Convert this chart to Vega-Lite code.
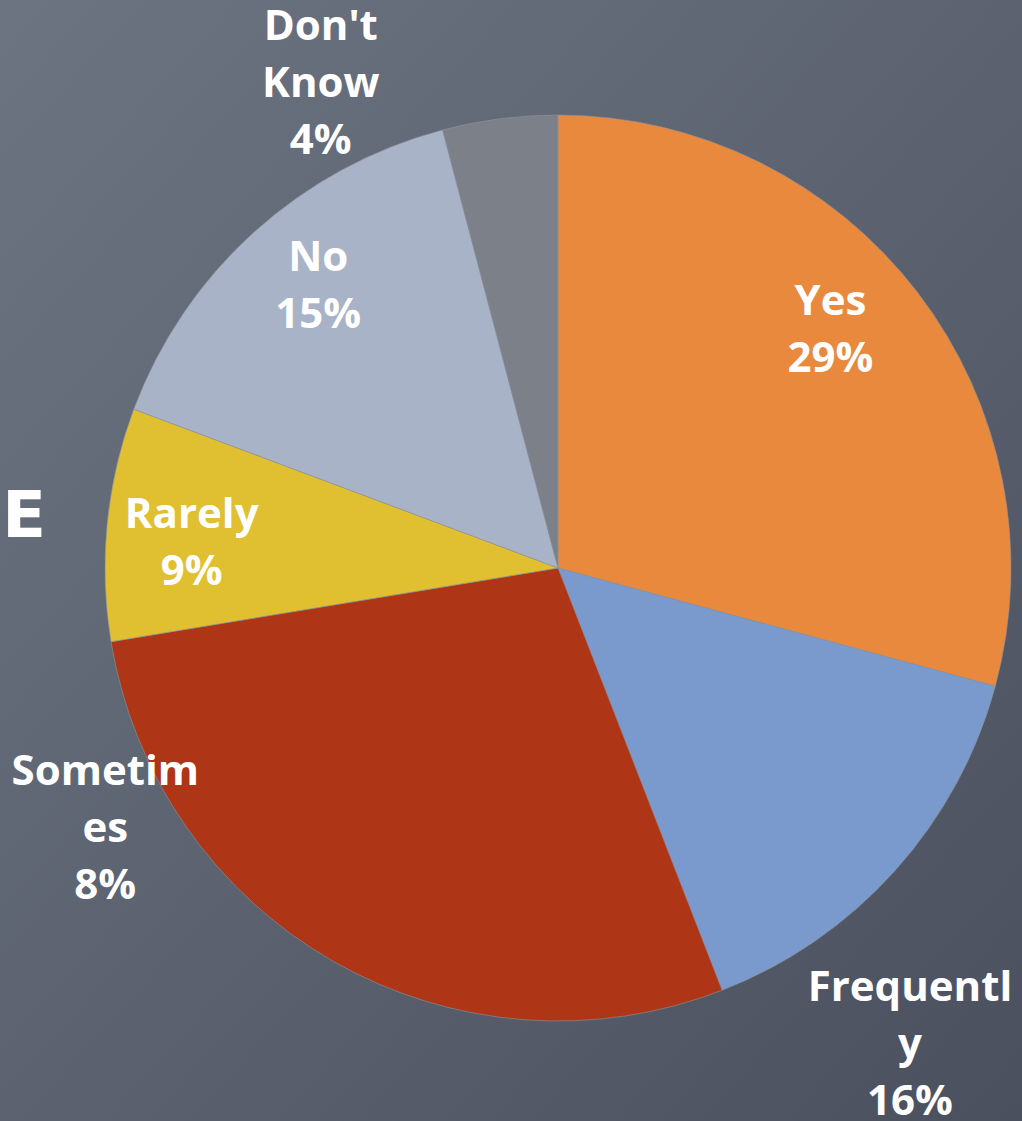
{
  "$schema": "https://vega.github.io/schema/vega-lite/v6.json",
  "width": 1022,
  "height": 1121,
  "autosize": "none",
  "padding": 0,
  "background": "#5c6370",
  "config": {"view": {"stroke": null}},
  "data": {
    "values": [
      {"seq": 1, "answer": "Yes", "share": 29.2, "label": "Yes\n29%"},
      {"seq": 2, "answer": "Frequently", "share": 14.9, "label": "Frequentl\ny\n16%"},
      {"seq": 3, "answer": "Sometimes", "share": 28.3, "label": "Sometim\nes\n8%"},
      {"seq": 4, "answer": "Rarely", "share": 8.3, "label": "Rarely\n9%"},
      {"seq": 5, "answer": "No", "share": 15.2, "label": "No\n15%"},
      {"seq": 6, "answer": "Don't Know", "share": 4.1, "label": "Don't\nKnow\n4%"}
    ]
  },
  "layer": [
    {
      "data": {"values": [{"bg": 1}]},
      "mark": {
        "type": "rect",
        "fill": {
          "gradient": "linear",
          "x1": 0, "y1": 0, "x2": 1, "y2": 1,
          "stops": [
            {"offset": 0, "color": "#6c7482"},
            {"offset": 1, "color": "#4b505e"}
          ]
        }
      },
      "encoding": {}
    },
    {
      "mark": {"type": "arc", "radius": 453, "xOffset": 47, "yOffset": 7.5, "stroke": "#8f939c", "strokeWidth": 0.6},
      "encoding": {
        "theta": {"field": "share", "type": "quantitative", "stack": true},
        "order": {"field": "seq", "type": "quantitative"},
        "color": {
          "field": "answer",
          "type": "nominal",
          "scale": {
            "domain": ["Yes", "Frequently", "Sometimes", "Rarely", "No", "Don't Know"],
            "range": ["#e8893e", "#7a9ace", "#ae3516", "#e0c030", "#a9b3c7", "#7b8089"]
          },
          "legend": null
        }
      }
    },
    {
      "mark": {"type": "text", "radius": 362, "dx": 32, "dy": -38, "font": "Open Sans", "fontWeight": "bold", "fontSize": 42, "lineHeight": 57, "lineBreak": "\n", "color": "white", "align": "center", "baseline": "middle"},
      "encoding": {
        "theta": {"field": "share", "type": "quantitative", "stack": true},
        "order": {"field": "seq", "type": "quantitative"},
        "text": {"condition": {"test": "datum.answer === 'Yes'", "field": "label"}, "value": ""}
      }
    },
    {
      "mark": {"type": "text", "radius": 362, "dx": 50, "dy": -34, "font": "Open Sans", "fontWeight": "bold", "fontSize": 42, "lineHeight": 57, "lineBreak": "\n", "color": "white", "align": "center", "baseline": "middle"},
      "encoding": {
        "theta": {"field": "share", "type": "quantitative", "stack": true},
        "order": {"field": "seq", "type": "quantitative"},
        "text": {"condition": {"test": "datum.answer === 'No'", "field": "label"}, "value": ""}
      }
    },
    {
      "mark": {"type": "text", "radius": 362, "dx": 41, "dy": -10, "font": "Open Sans", "fontWeight": "bold", "fontSize": 42, "lineHeight": 57, "lineBreak": "\n", "color": "white", "align": "center", "baseline": "middle"},
      "encoding": {
        "theta": {"field": "share", "type": "quantitative", "stack": true},
        "order": {"field": "seq", "type": "quantitative"},
        "text": {"condition": {"test": "datum.answer === 'Rarely'", "field": "label"}, "value": ""}
      }
    },
    {
      "mark": {"type": "text", "radius": 500, "dx": -158, "dy": -223, "font": "Open Sans", "fontWeight": "bold", "fontSize": 42, "lineHeight": 57, "lineBreak": "\n", "color": "white", "align": "center", "baseline": "middle"},
      "encoding": {
        "theta": {"field": "share", "type": "quantitative", "stack": true},
        "order": {"field": "seq", "type": "quantitative"},
        "text": {"condition": {"test": "datum.answer === 'Sometimes'", "field": "label"}, "value": ""}
      }
    },
    {
      "mark": {"type": "text", "radius": 500, "dx": 27, "dy": 93, "font": "Open Sans", "fontWeight": "bold", "fontSize": 42, "lineHeight": 57, "lineBreak": "\n", "color": "white", "align": "center", "baseline": "middle"},
      "encoding": {
        "theta": {"field": "share", "type": "quantitative", "stack": true},
        "order": {"field": "seq", "type": "quantitative"},
        "text": {"condition": {"test": "datum.answer === 'Frequently'", "field": "label"}, "value": ""}
      }
    },
    {
      "mark": {"type": "text", "radius": 500, "dx": -126, "dy": -38, "font": "Open Sans", "fontWeight": "bold", "fontSize": 42, "lineHeight": 57, "lineBreak": "\n", "color": "white", "align": "center", "baseline": "middle"},
      "encoding": {
        "theta": {"field": "share", "type": "quantitative", "stack": true},
        "order": {"field": "seq", "type": "quantitative"},
        "text": {"condition": {"test": "datum.answer === 'Don\\'t Know'", "field": "label"}, "value": ""}
      }
    },
    {
      "data": {"values": [{"t": "E"}]},
      "mark": {"type": "text", "dx": -487, "dy": -42.5, "font": "DejaVu Sans", "fontWeight": "bold", "fontSize": 64, "color": "white", "align": "center", "baseline": "middle"},
      "encoding": {"text": {"field": "t"}}
    }
  ]
}
